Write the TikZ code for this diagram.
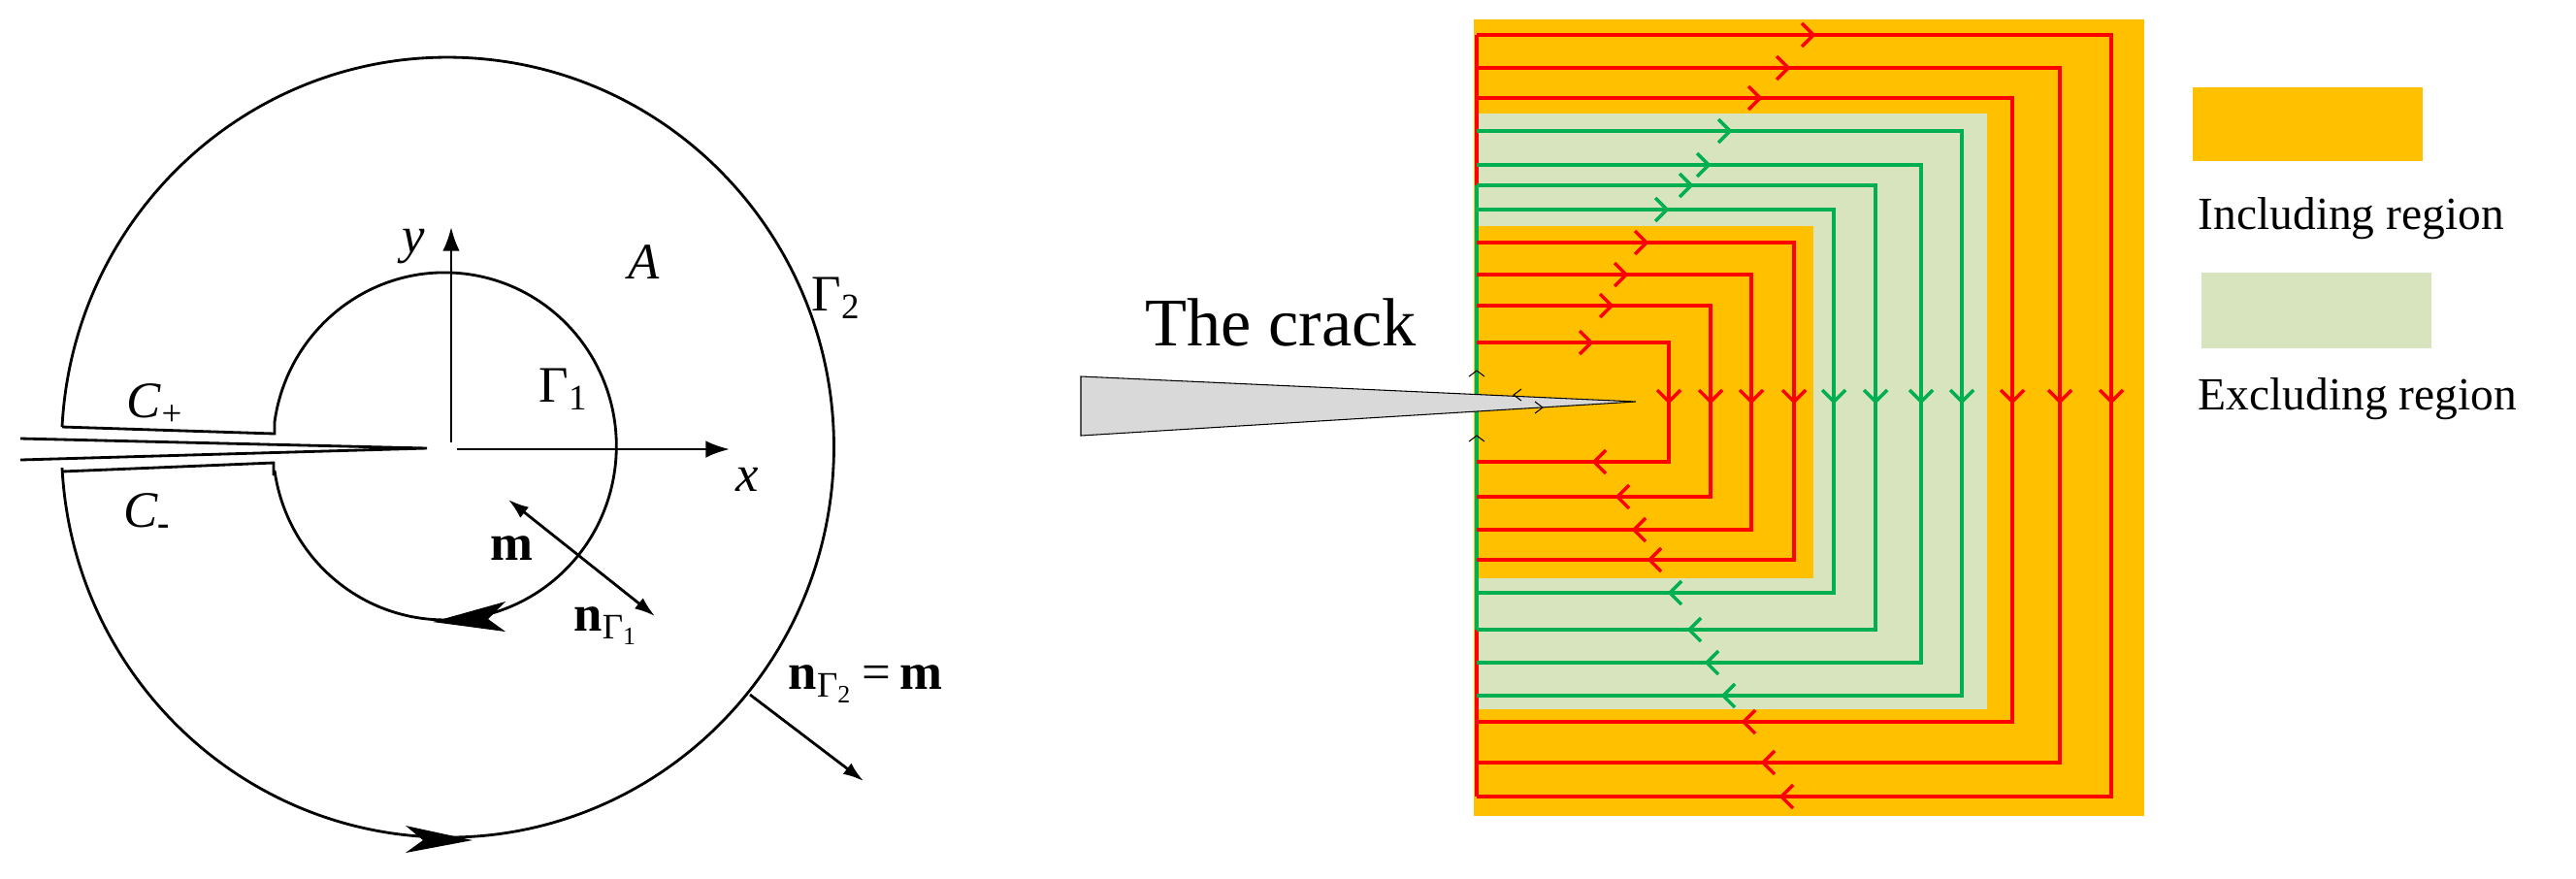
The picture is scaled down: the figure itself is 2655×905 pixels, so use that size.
\documentclass[tikz,border=0pt]{standalone}
\usepackage{fontspec}
\setmainfont{Liberation Serif}
\usetikzlibrary{arrows.meta}
\definecolor{inc}{HTML}{FFC000}
\definecolor{exc}{HTML}{D7E4BD}
\definecolor{rd}{HTML}{FF0000}
\definecolor{gn}{HTML}{00B050}
\newcommand\chR[3]{\draw[#3,line width=1pt] (#1-12,#2-12)--(#1,#2)--(#1-12,#2+12);}
\newcommand\chL[3]{\draw[#3,line width=1pt] (#1+12,#2-12)--(#1,#2)--(#1+12,#2+12);}
\newcommand\chD[3]{\draw[#3,line width=1pt] (#1-12,#2-12)--(#1,#2)--(#1+12,#2-12);}
\newcommand\loopp[4]{\draw[#4,line width=1.1pt] (1522,#1)--(#2,#1)--(#2,#3)--(1522,#3);}
\begin{document}
\begin{tikzpicture}[x=0.01cm,y=-0.01cm,
  lbl/.style={font=\fontsize{15}{17}\selectfont,inner sep=0},
  leg/.style={font=\fontsize{13.5}{16}\selectfont,anchor=west,inner sep=0},
  blk/.style={line width=0.8pt}]
\useasboundingbox (0,0) rectangle (2655,905);
% ---------- left diagram
\draw[blk] (64,440) arc[start angle=177,end angle=-177,x radius=398,y radius=-402];
\draw[blk] (64,440)--(283,447)--(283,435);
\draw[blk] (64,486)--(282,477)--(282,490);
\draw[blk] (283,435) arc[start angle=172,end angle=-172,x radius=177,y radius=-179];
\draw[blk] (21,452)--(440,462)--(21,474);
\draw[blk,-{Latex[length=7pt,width=5pt]}] (465,456)--(465,234);
\draw[blk,-{Latex[length=7pt,width=5pt]}] (471,463)--(752,463);
\fill (446,641)--(521,620)--(503,638)--(521,651)--cycle;
\fill (487,866)--(418,851)--(436,866)--(418,879)--cycle;
\draw[blk,{Latex[length=6pt,width=4pt]}-{Latex[length=6pt,width=4pt]}] (524,515)--(675,635);
\draw[blk,-{Latex[length=6pt,width=4pt]}] (773,716)--(890,805);
\node[lbl] (ly) at (426,254) {\textit{y}};
\node[lbl] (lx) at (770,494) {\textit{x}};
\node[lbl] (lA) at (664,270) {\textit{A}};
\node[lbl] (lG2) at (862,307) {Γ\textsubscript{2}};
\node[lbl] (lG1) at (581,401) {Γ\textsubscript{1}};
\node[lbl] (lCp) at (160,417) {\textit{C}\textsubscript{+}};
\node[lbl] (lCm) at (152,530) {\textit{C}\textsubscript{\textbf{-}}};
\node[lbl] (lm) at (527,565) {\textbf{m}};
\node[lbl] (ln1) at (625,645) {\textbf{n}\textsubscript{Γ\textsubscript{1}}};
\node[lbl,anchor=west] (ln2) at (812,705) {\textbf{n}\textsubscript{Γ\textsubscript{2}}\,=\,\textbf{m}};
% ---------- right diagram
\fill[inc] (1519,20) rectangle (2210,841);
\fill[exc] (1522,117) rectangle (2048,731);
\fill[inc] (1522,233) rectangle (1869,596);
\draw[rd,line width=1.1pt] (1522,36)--(1522,821);
\loopp{36}{2176}{821}{rd}
\loopp{70}{2123}{786}{rd}
\loopp{101}{2074}{744}{rd}
\loopp{135}{2022}{717}{gn}
\loopp{170}{1980}{683}{gn}
\loopp{191}{1933}{649}{gn}
\loopp{216}{1890}{611}{gn}
\draw[gn,line width=1.1pt] (1522,191)--(1522,649);
\loopp{250}{1849}{577}{rd}
\loopp{283}{1805}{546}{rd}
\loopp{315}{1763}{512}{rd}
\loopp{353}{1720}{476}{rd}
% top arrows
\chR{1869}{36}{rd}\chR{1843}{70}{rd}\chR{1814}{101}{rd}
\chR{1783}{135}{gn}\chR{1761}{170}{gn}\chR{1743}{191}{gn}\chR{1718}{216}{gn}
\chR{1697}{250}{rd}\chR{1676}{283}{rd}\chR{1661}{315}{rd}\chR{1640}{353}{rd}
% down arrows
\foreach \x in {1720,1763,1805,1849,2074,2123,2176} {\chD{\x}{414}{rd}}
\foreach \x in {1890,1933,1980,2022} {\chD{\x}{414}{gn}}
% left arrows
\chL{1643}{476}{rd}\chL{1667}{512}{rd}\chL{1684}{546}{rd}\chL{1700}{577}{rd}
\chL{1721}{611}{gn}\chL{1741}{649}{gn}\chL{1759}{683}{gn}\chL{1776}{717}{gn}
\chL{1797}{744}{rd}\chL{1817}{786}{rd}\chL{1836}{821}{rd}
% crack
\filldraw[fill=black!15,draw=black,line width=0.3pt] (1114,388)--(1686,414)--(1114,449)--cycle;
\draw[line width=0.3pt] (1514,388)--(1522,382)--(1530,388);
\draw[line width=0.3pt] (1514,455)--(1522,449)--(1530,455);
\draw[line width=0.3pt] (1568,401)--(1560,407)--(1568,413);
\draw[line width=0.3pt] (1582,414)--(1590,420)--(1582,426);
\node[font=\fontsize{20}{24}\selectfont,anchor=west,inner sep=0] (crack) at (1180,332) {The crack};
% legend
\fill[inc] (2260,90) rectangle (2497,166);
\fill[exc] (2269,281) rectangle (2506,359);
\node[leg] (l1) at (2265,225) {Including region};
\node[leg] (l2) at (2265,411) {Excluding region};
\end{tikzpicture}
\end{document}
